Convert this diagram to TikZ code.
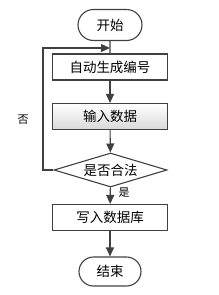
\documentclass[tikz,border=0pt]{standalone}
\usepackage{fontspec}
\newfontfamily\cjk{Noto Sans CJK SC}
\usetikzlibrary{shapes.geometric,shapes.misc,arrows.meta}
\definecolor{ln}{HTML}{404040}
\tikzset{
  every node/.style={font=\cjk\fontsize{13.5}{15}\selectfont, text=black},
  term/.style={draw=ln, line width=1.1pt, rounded rectangle, minimum width=64pt, minimum height=31pt, inner sep=0pt},
  proc/.style={draw=ln, line width=1.1pt, rectangle, minimum width=115pt, minimum height=26pt, inner sep=0pt},
  dec/.style={draw=ln, line width=1.1pt, diamond, aspect=3.3, minimum width=113pt, minimum height=34pt, inner sep=0pt},
  conn/.style={draw=ln, line width=1.1pt, -{Triangle[length=9pt,width=8pt]}},
  lbl/.style={font=\cjk\fontsize{11}{12}\selectfont},
}
\begin{document}
\begin{tikzpicture}[x=1pt,y=-1pt]
\useasboundingbox (0,0) rectangle (218,295);
\node[term] (start) at (110,25) {开始};
\node[proc] (gen) at (110,67) {自动生成编号};
\node[proc, top color=white, bottom color=black!15] (input) at (110,116.5) {输入数据};
\node[dec] (check) at (110.5,170) {是否合法};
\node[proc] (write) at (110,217.5) {写入数据库};
\node[term, minimum width=62pt, minimum height=29pt] (end) at (110,271.5) {结束};
\coordinate (loopL) at (43,48);
\coordinate (loopR) at (110,48);
\draw[draw=ln, line width=1.1pt] (start) -- (gen);
\draw[conn] (gen) -- (input);
\draw[conn] (input) -- (check);
\draw[conn] (check) -- (write);
\draw[conn] (write) -- (end);
\draw[conn] (check.west) -| (loopL) -- (loopR);
\node[lbl] (no) at (23,120) {否};
\node[lbl] (yes) at (124,193) {是};
\end{tikzpicture}
\end{document}
